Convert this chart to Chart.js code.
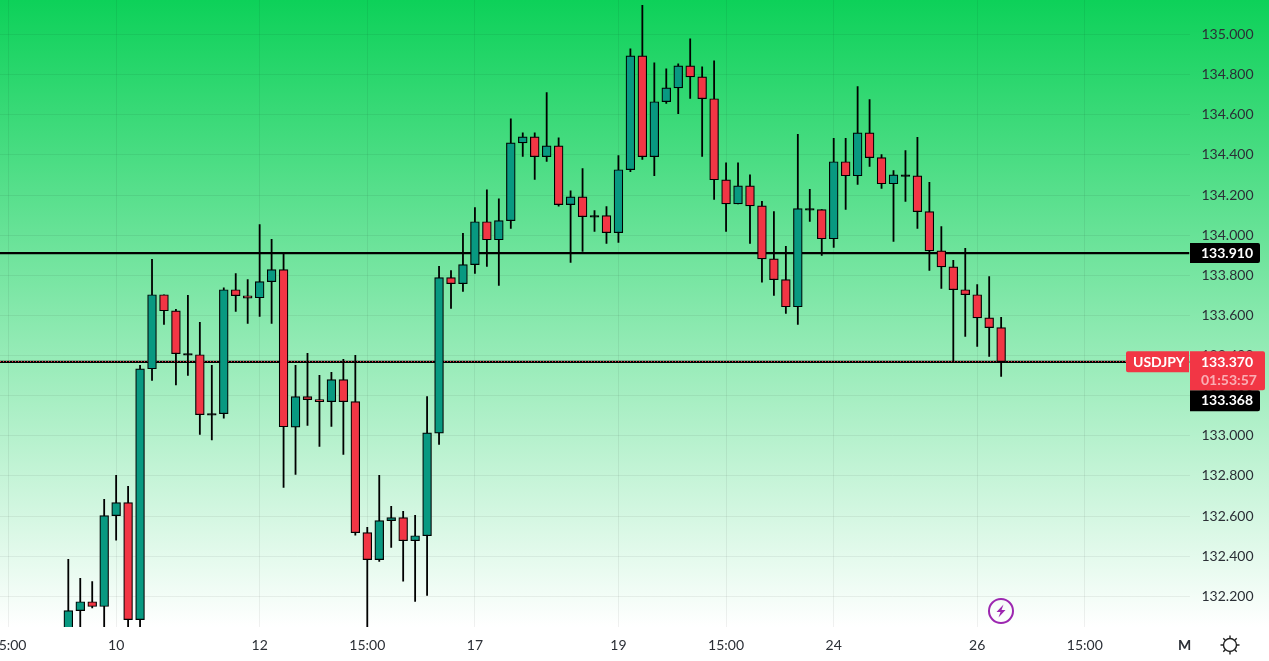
<!DOCTYPE html>
<html>
<head>
<meta charset="utf-8">
<title>USDJPY</title>
<script src="https://cdn.jsdelivr.net/npm/chart.js@4/dist/chart.umd.min.js"></script>
<style>
    html, body { margin: 0; padding: 0; width: 1269px; height: 661px; overflow: hidden; background: #fff; }
    #wrap { position: relative; width: 1269px; height: 661px; background: linear-gradient(to bottom, #0dd159 0, #ffffff 627px, #ffffff 661px); }
    #chart { position: absolute; left: 0; top: 0; }
    .icon { position: absolute; }
    #mode { position: absolute; left: 1178px; top: 636px; font: 700 14px Lato, sans-serif; color: #2b2f36; }
</style>
</head>
<body>
<div id="wrap">
    <canvas id="chart" width="1269" height="661"></canvas>
    <svg class="icon" style="left:987px;top:597px" width="28" height="28" viewBox="0 0 28 28">
        <circle cx="14" cy="14" r="12" fill="none" stroke="#9c27b0" stroke-width="2"/>
        <path d="M16.5 7.5 L9.5 15 L13.5 15 L11.5 20.5 L18.5 13 L14.5 13 Z" fill="#9c27b0"/>
    </svg>
    <svg class="icon" style="left:1219px;top:634px" width="22" height="22" viewBox="0 0 22 22">
        <circle cx="11" cy="11" r="6.5" fill="none" stroke="#222" stroke-width="1.4"/>
        <path d="M11 1.5V4 M11 18V20.5 M1.5 11H4 M18 11H20.5 M4.3 4.3L6.2 6.2 M15.8 15.8L17.7 17.7 M4.3 17.7L6.2 15.8 M15.8 6.2L17.7 4.3" stroke="#222" stroke-width="1.4"/>
    </svg>
    <span id="mode">M</span>
</div>
<script>
// Candle data, oldest first
const opens = [131.986,132.129,132.173,132.149,132.602,132.667,132.084,133.334,133.703,133.623,
    133.410,133.404,133.111,133.110,133.728,133.698,133.688,133.768,133.828,133.043,
    133.195,133.180,133.170,133.280,133.170,132.517,132.383,132.577,132.592,132.477,
    132.502,133.013,133.788,133.758,133.853,134.067,133.977,134.072,134.460,134.490,
    134.391,134.445,134.152,134.191,134.097,134.097,134.012,134.326,134.894,134.391,
    134.665,134.734,134.844,134.789,134.680,134.276,134.156,134.246,134.146,133.882,
    133.778,133.643,134.132,134.127,133.982,134.366,134.296,134.510,134.386,134.256,
    134.301,134.296,134.117,133.922,133.842,133.728,133.703,133.588,133.539];
const highs = [132.384,132.290,132.273,132.683,132.803,132.748,133.351,133.879,133.703,133.630,
    133.700,133.565,133.351,133.738,133.809,133.779,134.053,133.979,133.912,133.351,
    133.411,133.301,133.316,133.381,133.401,132.544,132.803,132.648,132.623,132.603,
    133.196,133.844,133.824,134.009,134.137,134.226,134.181,134.580,134.510,134.510,
    134.711,134.485,134.221,134.332,134.123,134.142,134.397,134.929,135.145,134.859,
    134.829,134.854,134.979,134.839,134.869,134.361,134.361,134.301,134.168,134.117,
    133.944,134.502,134.228,134.127,134.482,134.482,134.741,134.676,134.402,134.322,
    134.422,134.487,134.263,134.043,133.874,133.934,133.754,133.794,133.590];
const lows = [131.936,131.986,132.142,132.025,132.480,132.035,132.035,133.276,133.555,133.253,
    133.301,133.007,132.979,133.088,133.620,133.560,133.595,133.560,132.743,132.808,
    133.052,132.947,133.047,132.907,132.505,132.025,132.374,132.444,132.275,132.175,
    132.205,132.957,133.635,133.720,133.809,133.844,133.749,134.033,134.392,134.278,
    134.367,134.145,133.864,133.919,134.018,133.959,133.964,134.317,134.377,134.297,
    134.656,134.606,134.681,134.392,134.178,134.018,134.156,133.959,133.766,133.700,
    133.610,133.555,134.068,133.899,133.939,134.128,134.253,134.342,134.233,133.969,
    134.168,134.033,133.824,133.734,133.372,133.495,133.445,133.396,133.296];
const closes = [132.129,132.173,132.149,132.602,132.667,132.084,133.334,133.703,133.623,133.409,
    133.402,133.105,133.103,133.728,133.698,133.686,133.768,133.828,133.045,133.195,
    133.180,133.170,133.280,133.170,132.517,132.383,132.577,132.592,132.477,132.502,
    133.015,133.788,133.758,133.853,134.067,133.977,134.072,134.460,134.490,134.391,
    134.445,134.152,134.191,134.092,134.089,134.012,134.326,134.894,134.391,134.665,
    134.734,134.844,134.789,134.680,134.276,134.156,134.246,134.146,133.882,133.778,
    133.643,134.132,134.124,133.982,134.366,134.296,134.510,134.386,134.256,134.301,
    134.293,134.117,133.922,133.842,133.728,133.703,133.588,133.539,133.370];

// Axis ticks
const priceTicks = [132.2,132.4,132.6,132.8,133.0,133.2,133.4,133.6,133.8,134.0,134.2,134.4,134.6,134.8,135.0];
const timeTickIndexes = [-5,4,16,25,34,46,55,64,76,85];
const timeTickLabels = ['15:00','10','12','15:00','17','19','15:00','24','26','15:00'];

// Price levels
const levelPrice = 133.910;
const bidPrice = 133.368;
const lastPrice = 133.370;
const symbolName = 'USDJPY';
const countdown = '01:53:57';

const GREEN = '#089981';
const RED = '#f23645';
const TAG_FONT = '700 14px Lato, sans-serif';
const xMin = -5.711;
const xMax = 93.75;

// Open and close nearly equal: the body is only its black outline
function bodyColor(open, close) {
    if (Math.abs(close - open) < 0.009) return '#000';
    return close > open ? GREEN : RED;
}

// Price tags on the right side
const tagsPlugin = {
    id: 'tags',
    afterDraw(chart) {
        const ctx = chart.ctx;
        const y = chart.scales.y;
        ctx.save();
        ctx.font = TAG_FONT;
        ctx.textBaseline = 'middle';
        ctx.textAlign = 'left';

        const levelY = y.getPixelForValue(levelPrice);
        const lastY = y.getPixelForValue(lastPrice);

        ctx.fillStyle = '#000';
        ctx.beginPath();
        ctx.roundRect(1190, levelY - 10.1, 70, 20, [0, 2, 2, 0]);
        ctx.roundRect(1190, lastY + 28.6, 70, 21, [0, 2, 2, 0]);
        ctx.fill();

        ctx.fillStyle = RED;
        ctx.beginPath();
        ctx.roundRect(1126, lastY - 10.4, 63, 21, [2, 0, 0, 2]);
        ctx.roundRect(1190, lastY - 10.4, 75, 39, [0, 2, 2, 0]);
        ctx.fill();

        ctx.fillStyle = '#fff';
        ctx.fillText(levelPrice.toFixed(3), 1201, levelY + 0.5);
        ctx.fillText(bidPrice.toFixed(3), 1201, lastY + 39);
        ctx.fillText(lastPrice.toFixed(3), 1201, lastY + 0.5);
        ctx.fillText(symbolName, 1133, lastY + 0.5);
        ctx.fillStyle = 'rgba(255,255,255,0.6)';
        ctx.fillText(countdown, 1201, lastY + 18.5);
        ctx.restore();
    }
};

function levelLine(price, color, dash, width, order) {
    return {
        type: 'line',
        data: [{ x: xMin, y: price }, { x: xMax, y: price }],
        borderColor: color,
        borderWidth: width,
        borderDash: dash,
        pointRadius: 0,
        order
    };
}

new Chart(document.getElementById('chart'), {
    type: 'bar',
    data: {
        datasets: [
            {
                // bodies
                data: opens.map((o, i) => ({ x: i, y: [o, closes[i]] })),
                backgroundColor: opens.map((o, i) => bodyColor(o, closes[i])),
                borderColor: '#000',
                borderWidth: 1.2,
                borderSkipped: false,
                barThickness: 8.8,
                barPercentage: 1,
                grouped: false,
                order: 1
            },
            {
                // wicks
                data: lows.map((l, i) => ({ x: i, y: [l, highs[i]] })),
                backgroundColor: '#000',
                borderWidth: 0,
                barThickness: 1.15,
                barPercentage: 1,
                grouped: false,
                order: 2
            },
            levelLine(levelPrice, '#000', [], 2.2, 3),
            levelLine(lastPrice, RED, [1, 2], 1, 4),
            levelLine(bidPrice, '#000', [], 2.2, 5)
        ]
    },
    options: {
        responsive: false,
        animation: false,
        events: [],
        layout: { padding: 0 },
        plugins: { legend: { display: false }, tooltip: { enabled: false } },
        scales: {
            x: {
                type: 'linear',
                offset: false,
                min: xMin,
                max: xMax,
                border: { display: false },
                grid: { color: 'rgba(0,0,0,0.06)', drawTicks: false, offset: false },
                ticks: {
                    autoSkip: false,
                    maxRotation: 0,
                    padding: 10,
                    color: '#2b2f36',
                    font: { family: 'Lato, sans-serif', size: 14 },
                    callback: value => timeTickLabels[timeTickIndexes.indexOf(value)]
                },
                afterBuildTicks: scale => { scale.ticks = timeTickIndexes.map(value => ({ value })); },
                afterFit: scale => { scale.height = 34; scale.paddingLeft = 0; scale.paddingRight = 0; }
            },
            y: {
                position: 'right',
                min: 132.047,
                max: 135.172,
                border: { display: false },
                grid: { color: 'rgba(0,0,0,0.06)', drawTicks: false },
                ticks: {
                    padding: 12,
                    color: '#2b2f36',
                    font: { family: 'Lato, sans-serif', size: 14 },
                    callback: value => value.toFixed(3)
                },
                afterBuildTicks: scale => { scale.ticks = priceTicks.map(value => ({ value })); },
                afterFit: scale => { scale.width = 79.5; scale.paddingTop = 0; scale.paddingBottom = 0; }
            }
        }
    },
    plugins: [tagsPlugin]
});
</script>
</body>
</html>
